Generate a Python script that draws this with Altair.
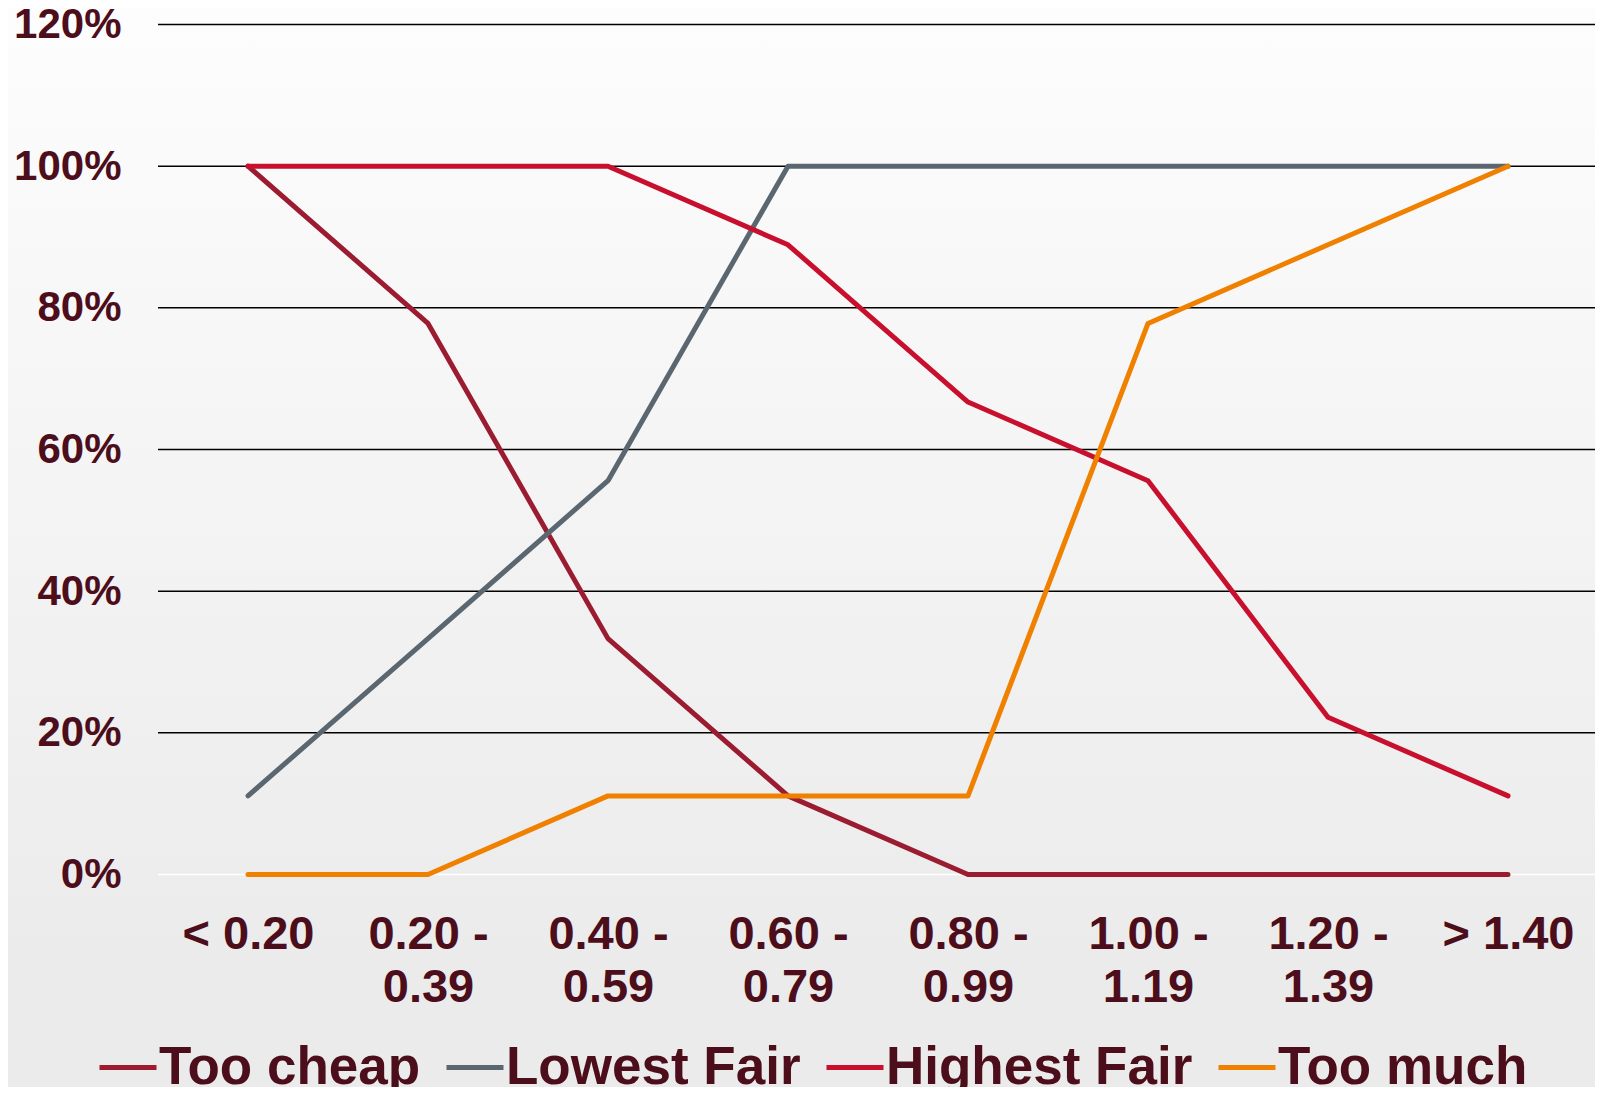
import altair as alt
import pandas as pd

categories = ["< 0.20", "0.20 -\n0.39", "0.40 -\n0.59", "0.60 -\n0.79",
              "0.80 -\n0.99", "1.00 -\n1.19", "1.20 -\n1.39", "> 1.40"]
series_names = ["Too cheap", "Lowest Fair", "Highest Fair", "Too much"]
too_cheap = [1.0, 0.778, 0.333, 0.111, 0.0, 0.0, 0.0, 0.0]
lowest_fair = [0.111, 0.333, 0.556, 1.0, 1.0, 1.0, 1.0, 1.0]
highest_fair = [1.0, 1.0, 1.0, 0.889, 0.667, 0.556, 0.222, 0.111]
too_much = [0.0, 0.0, 0.111, 0.111, 0.111, 0.778, 0.889, 1.0]
colors = ["#9b1c31", "#5b6770", "#c8102e", "#f08000"]
y_ticks = [0, 0.2, 0.4, 0.6, 0.8, 1.0, 1.2]

rows = []
for name, vals in zip(series_names, [too_cheap, lowest_fair, highest_fair, too_much]):
    for i, (c, v) in enumerate(zip(categories, vals)):
        rows.append({"cat": c, "series": name, "value": v, "order": i})
df = pd.DataFrame(rows)
grid_df = pd.DataFrame({"tick": y_ticks})

FONT = "Liberation Sans"
TEXT = "#4d0e1c"
W, H = 1437, 850
X_RANGE = 1440

y_scale = alt.Scale(domain=[0, 1.2], nice=False, zero=True)

bg = alt.Chart(pd.DataFrame({"a": [0]})).mark_rect(
    color=alt.Gradient(
        gradient="linear",
        stops=[alt.GradientStop(color="#fdfdfd", offset=0),
               alt.GradientStop(color="#ebebeb", offset=0.88),
               alt.GradientStop(color="#ebebeb", offset=1)],
        x1=0, x2=0, y1=0, y2=1,
    )
).encode(
    x=alt.value(-160), x2=alt.value(W + 20),
    y=alt.value(-30), y2=alt.value(H + 230),
)

grid = alt.Chart(grid_df).mark_rule(strokeWidth=1.5).encode(
    y=alt.Y("tick:Q", scale=y_scale, title=None),
    color=alt.condition("datum.tick === 0", alt.value("white"), alt.value("black")),
)

lines = alt.Chart(df).mark_line(strokeWidth=5, strokeCap="round", strokeJoin="round").encode(
    x=alt.X("cat:N", sort=categories, title=None,
            scale=alt.Scale(padding=0.5, range=[0, X_RANGE]),
            axis=alt.Axis(labelAngle=0, labelFont=FONT, labelFontSize=47,
                          labelFontWeight="bold", labelColor=TEXT,
                          labelPadding=37, labelLineHeight=53,
                          labelExpr="split(datum.label, '\\n')",
                          domain=False, ticks=False, grid=False, labelLimit=0,
                          zindex=1)),
    y=alt.Y("value:Q", title=None, scale=y_scale,
            axis=alt.Axis(values=y_ticks, format=".0%", labelFont=FONT,
                          labelFontSize=42, labelFontWeight="bold",
                          labelColor=TEXT, labelPadding=37, domain=False,
                          ticks=False, grid=False, zindex=1)),
    color=alt.Color("series:N", sort=series_names,
                    scale=alt.Scale(domain=series_names, range=colors),
                    legend=alt.Legend(orient="none", legendX=-61, legendY=1012,
                                      direction="horizontal", title=None,
                                      symbolType="stroke", symbolSize=3249,
                                      symbolStrokeWidth=5, labelFont=FONT,
                                      labelFontSize=53, labelFontWeight="bold",
                                      labelColor=TEXT, columnPadding=15,
                                      labelOffset=0, labelLimit=0)),
    order=alt.Order("order:Q"),
)

chart = alt.layer(bg, grid, lines).resolve_scale(color="independent").properties(
    width=W, height=H,
    autosize=alt.AutoSizeParams(type="none"),
    padding={"left": 150, "top": 16.5, "right": 0, "bottom": 212},
    background="#ebebeb",
).configure_view(stroke=None)

chart.save("out.html", embed_options={"renderer": "svg", "actions": False})
